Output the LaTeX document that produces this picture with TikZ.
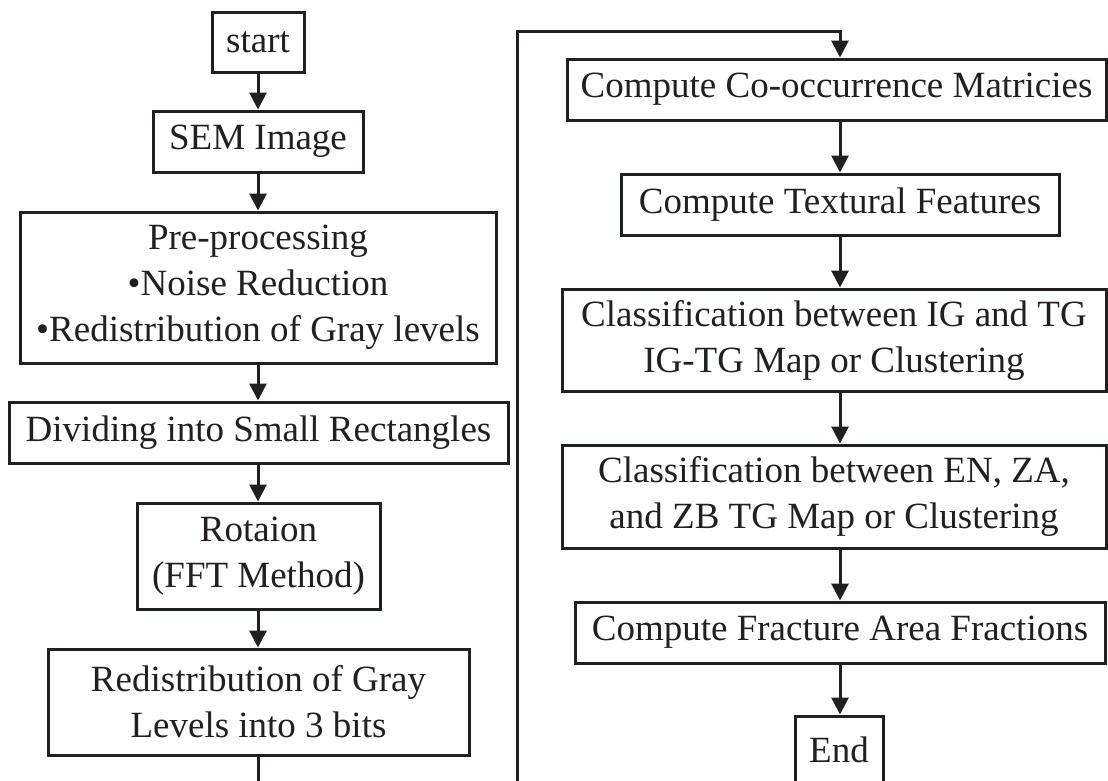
\documentclass[tikz,border=0pt]{standalone}
\usepackage{fontspec}
\setmainfont{Liberation Serif}
\usetikzlibrary{arrows.meta}
\definecolor{ink}{RGB}{35,31,32}
\tikzset{
  box/.style={draw=ink, line width=3pt, align=center, inner sep=4pt,
    text=ink, font=\fontsize{37}{46}\selectfont},
  arr/.style={draw=ink, line width=3pt, -{Triangle[width=17pt,length=17pt]}},
  plain/.style={draw=ink, line width=3pt}
}
\begin{document}
\begin{tikzpicture}[x=1pt, y=-1pt]
\useasboundingbox (0,0) rectangle (1108,780);
\clip (0,0) rectangle (1108,780);
\fill[white] (0,0) rectangle (1108,780);

% left column
\node[box, minimum width=92, minimum height=60] (start) at (258,42) {start};
\node[box, minimum width=210, minimum height=61] (sem) at (258,141.5) {SEM Image};
\node[box, minimum width=476, minimum height=151] (pre) at (258,287.5)
  {Pre-processing\\•Noise Reduction\\•Redistribution of Gray levels};
\node[box, minimum width=499, minimum height=61] (div) at (258.5,432.5)
  {Dividing into Small Rectangles};
\node[box, minimum width=243, minimum height=106] (rot) at (258.5,556)
  {Rotaion\\(FFT Method)};
\node[box, minimum width=421, minimum height=106] (red) at (258.5,702)
  {Redistribution of Gray\\Levels into 3 bits};

% right column
\node[box, minimum width=539, minimum height=61] (cooc) at (836.5,89.5)
  {Compute Co-occurrence Matricies};
\node[box, minimum width=438, minimum height=61] (tex) at (840,204.5)
  {Compute Textural Features};
\node[box, minimum width=544, minimum height=102] (ig) at (834,340)
  {Classification between IG and TG\\IG-TG Map or Clustering};
\node[box, minimum width=544, minimum height=103] (en) at (834,496.5)
  {Classification between EN, ZA,\\and ZB TG Map or Clustering};
\node[box, minimum width=530, minimum height=61] (frac) at (840,632.5)
  {Compute Fracture Area Fractions};
\node[box, minimum width=88, minimum height=68] (end) at (839,750) {End};

% free ends of the connectors leaving the page
\coordinate (leftout) at (258,790);
\coordinate (loopbot) at (517,790);
\coordinate (looptop) at (517,31);

% left column connectors
\draw[arr] (start) -- (sem);
\draw[arr] (sem) -- (pre);
\draw[arr] (pre.south) -- (pre.south |- div.north);
\draw[arr] (div.south -| pre.south) -- (rot.north -| pre.south);
\draw[arr] (rot.south -| pre.south) -- (red.north -| pre.south);
\draw[plain] (red.south -| pre.south) -- (leftout);

% loop into the right column
\draw[arr] (loopbot) -- (looptop) -| (tex.north |- cooc.north);

% right column connectors
\draw[arr] (tex.north |- cooc.south) -- (tex.north);
\draw[arr] (tex.south) -- (tex.south |- ig.north);
\draw[arr] (tex.south |- ig.south) -- (tex.south |- en.north);
\draw[arr] (tex.south |- en.south) -- (frac.north);
\draw[arr] (frac.south) -- (frac.south |- end.north);
\end{tikzpicture}
\end{document}
